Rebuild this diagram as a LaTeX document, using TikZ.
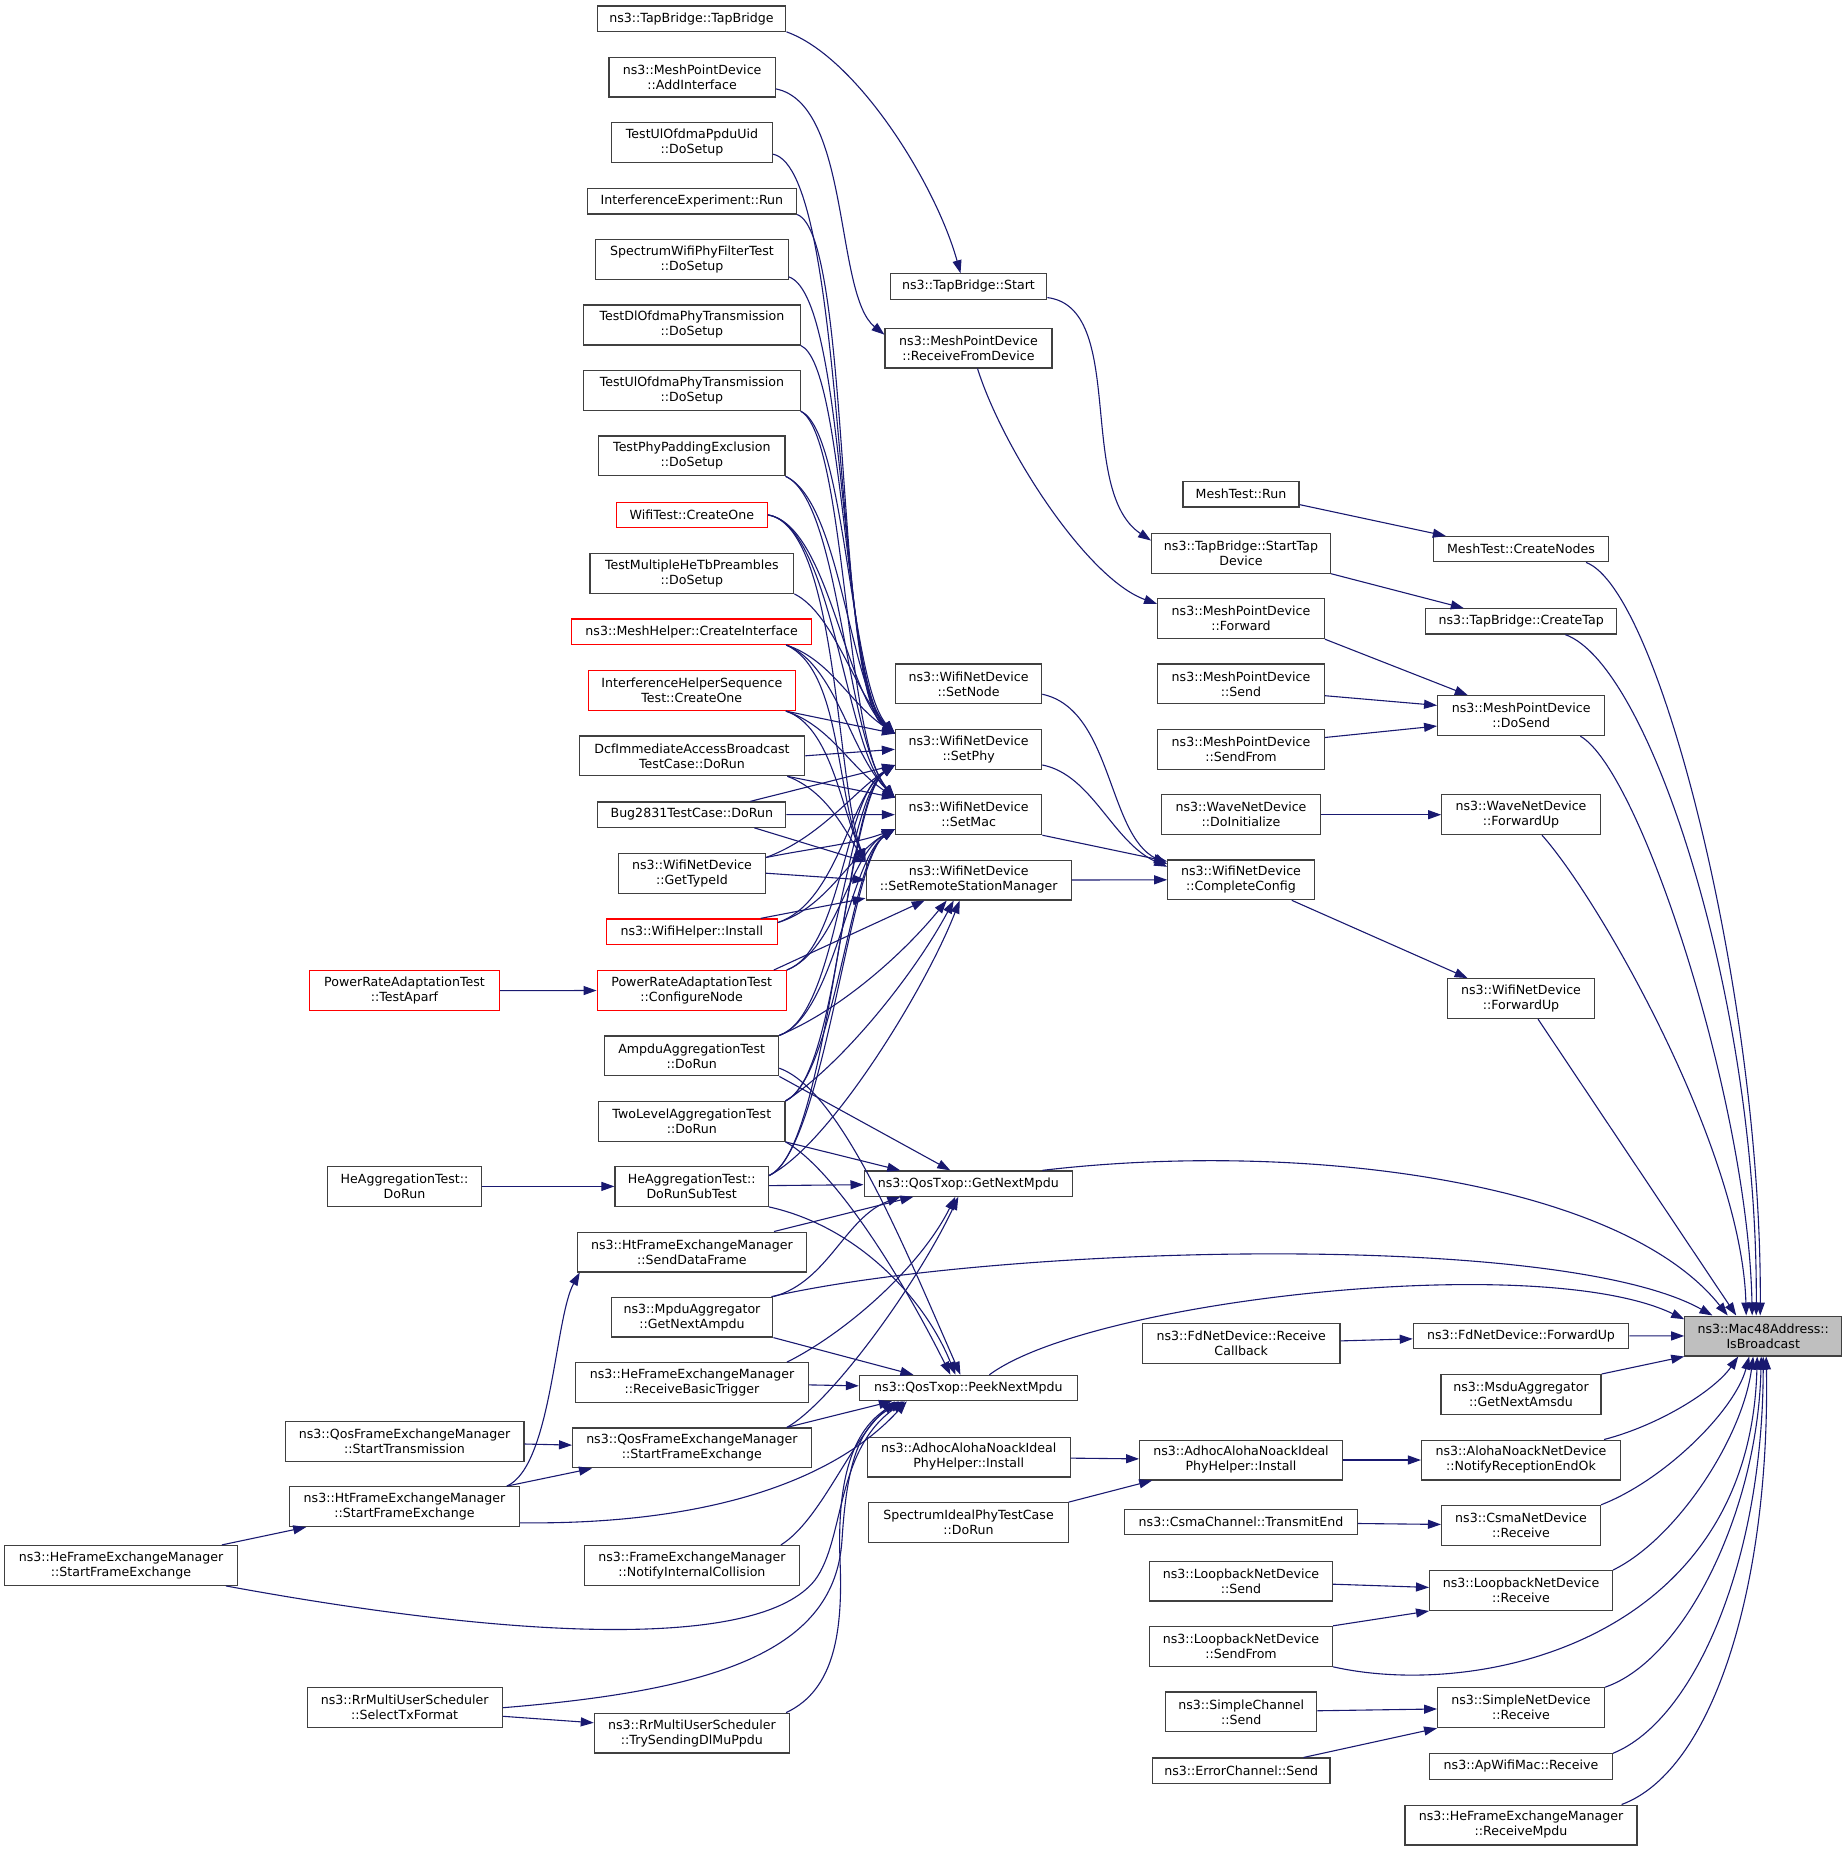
\documentclass[tikz,border=0pt]{standalone}
\usepackage{fontspec}
\setmainfont{DejaVu Sans}
\usetikzlibrary{arrows.meta}
\definecolor{edgeblue}{HTML}{191970}
\definecolor{boxgray}{HTML}{404040}
\definecolor{rootgray}{HTML}{BFBFBF}
\tikzset{
	fn/.style={draw=boxgray, line width=1.2pt, fill=white, align=center, inner sep=0pt, minimum height=25.3pt, font=\fontsize{12.6}{15}\selectfont},
	fnn/.style={fn, minimum height=39.8pt},
	trunc/.style={draw=red},
	root/.style={fill=rootgray},
	calledge/.style={draw=edgeblue, line width=1.1pt, -{Triangle[length=13pt,width=9pt]}}
}
\begin{document}
\begin{tikzpicture}[x=1pt, y=-1pt]
	\useasboundingbox (0,0) rectangle (1847,1851);

	% Left columns
	\node [fnn, minimum width=232.5pt] (heSFE) at (121,1565.4) {ns3::HeFrameExchangeManager\\::StartFrameExchange};
	\node [fnn, trunc, minimum width=189.8pt] (aparf) at (404.5,990.6) {PowerRateAdaptationTest\\::TestAparf};
	\node [fnn, minimum width=153.4pt] (heRun) at (404.5,1186.4) {HeAggregationTest::\\DoRun};
	\node [fnn, minimum width=238.8pt] (qosST) at (404.5,1441.2) {ns3::QosFrameExchangeManager\\::StartTransmission};
	\node [fnn, minimum width=229.4pt] (htSFE) at (404.5,1506.6) {ns3::HtFrameExchangeManager\\::StartFrameExchange};
	\node [fnn, minimum width=195pt] (selTx) at (404.7,1707.7) {ns3::RrMultiUserScheduler\\::SelectTxFormat};

	% Middle column of callers
	\node [fn, minimum width=188.7pt] (tbCtor) at (691.5,18.6) {ns3::TapBridge::TapBridge};
	\node [fnn, minimum width=166.2pt] (addIf) at (692.1,77.1) {ns3::MeshPointDevice\\::AddInterface};
	\node [fnn, minimum width=160.7pt] (ppduUid) at (692,142.8) {TestUlOfdmaPpduUid\\::DoSetup};
	\node [fn, minimum width=209.3pt] (interfRun) at (691.9,201.3) {InterferenceExperiment::Run};
	\node [fnn, minimum width=192.3pt] (specFilter) at (692,259.8) {SpectrumWifiPhyFilterTest\\::DoSetup};
	\node [fnn, minimum width=216.5pt] (dlOfdma) at (691.9,325) {TestDlOfdmaPhyTransmission\\::DoSetup};
	\node [fnn, minimum width=216.5pt] (ulOfdma) at (691.9,390.7) {TestUlOfdmaPhyTransmission\\::DoSetup};
	\node [fnn, minimum width=186.3pt] (padding) at (691.9,455.9) {TestPhyPaddingExclusion\\::DoSetup};
	\node [fn, trunc, minimum width=150.9pt] (wifiTest) at (691.9,514.9) {WifiTest::CreateOne};
	\node [fnn, minimum width=203.7pt] (heTb) at (691.9,573.4) {TestMultipleHeTbPreambles\\::DoSetup};
	\node [fn, trunc, minimum width=239.7pt] (meshHelper) at (691.7,631.7) {ns3::MeshHelper::CreateInterface};
	\node [fnn, trunc, minimum width=206.9pt] (ihSeq) at (691.8,690.6) {InterferenceHelperSequence\\Test::CreateOne};
	\node [fnn, minimum width=225.5pt] (dcf) at (692,755.8) {DcfImmediateAccessBroadcast\\TestCase::DoRun};
	\node [fn, minimum width=187.9pt] (bug2831) at (691.8,814.6) {Bug2831TestCase::DoRun};
	\node [fnn, minimum width=146.7pt] (typeId) at (692,873.2) {ns3::WifiNetDevice\\::GetTypeId};
	\node [fn, trunc, minimum width=170.4pt] (wifiHelper) at (691.9,931.6) {ns3::WifiHelper::Install};
	\node [fnn, trunc, minimum width=189.1pt] (confNode) at (691.7,990.5) {PowerRateAdaptationTest\\::ConfigureNode};
	\node [fnn, minimum width=174pt] (ampdu) at (691.7,1055.9) {AmpduAggregationTest\\::DoRun};
	\node [fnn, minimum width=186.3pt] (twoLevel) at (691.8,1121.4) {TwoLevelAggregationTest\\::DoRun};
	\node [fnn, minimum width=153.4pt] (heSub) at (691.7,1186.4) {HeAggregationTest::\\DoRunSubTest};
	\node [fnn, minimum width=229.1pt] (sendData) at (691.9,1252) {ns3::HtFrameExchangeManager\\::SendDataFrame};
	\node [fnn, minimum width=161.7pt] (getAmpdu) at (692,1317.1) {ns3::MpduAggregator\\::GetNextAmpdu};
	\node [fnn, minimum width=232.7pt] (rcvTrig) at (692,1382.6) {ns3::HeFrameExchangeManager\\::ReceiveBasicTrigger};
	\node [fnn, minimum width=238.6pt] (qosSFE) at (691.9,1447.9) {ns3::QosFrameExchangeManager\\::StartFrameExchange};
	\node [fnn, minimum width=214.9pt] (notifyColl) at (691.9,1565.4) {ns3::FrameExchangeManager\\::NotifyInternalCollision};
	\node [fnn, minimum width=195.1pt] (trySend) at (691.9,1733.1) {ns3::RrMultiUserScheduler\\::TrySendingDlMuPpdu};

	% WifiNetDevice setters and Txop
	\node [fn, minimum width=156.6pt] (tbStart) at (968.5,286.5) {ns3::TapBridge::Start};
	\node [fnn, minimum width=166.9pt] (rcvFromDev) at (968.5,348) {ns3::MeshPointDevice\\::ReceiveFromDevice};
	\node [fnn, minimum width=146.3pt] (setNode) at (968.6,683.9) {ns3::WifiNetDevice\\::SetNode};
	\node [fnn, minimum width=146.3pt] (setPhy) at (968.6,749.3) {ns3::WifiNetDevice\\::SetPhy};
	\node [fnn, minimum width=146.3pt] (setMac) at (968.6,814.7) {ns3::WifiNetDevice\\::SetMac};
	\node [fnn, minimum width=205.2pt] (setRsm) at (968.7,880) {ns3::WifiNetDevice\\::SetRemoteStationManager};
	\node [fn, minimum width=208.4pt] (getNext) at (968.3,1183.6) {ns3::QosTxop::GetNextMpdu};
	\node [fn, minimum width=217.9pt] (peekNext) at (968.4,1388) {ns3::QosTxop::PeekNextMpdu};
	\node [fnn, minimum width=202.8pt] (adhocA) at (968.7,1457) {ns3::AdhocAlohaNoackIdeal\\PhyHelper::Install};
	\node [fnn, minimum width=199.3pt] (specIdeal) at (968.5,1522.6) {SpectrumIdealPhyTestCase\\::DoRun};

	% Net devices and channels
	\node [fn, minimum width=116pt] (meshRun) at (1241,494.3) {MeshTest::Run};
	\node [fnn, minimum width=178.8pt] (startTap) at (1241,553.2) {ns3::TapBridge::StartTap\\Device};
	\node [fnn, minimum width=166.7pt] (forward) at (1241,618.7) {ns3::MeshPointDevice\\::Forward};
	\node [fnn, minimum width=167pt] (mpSend) at (1241,683.9) {ns3::MeshPointDevice\\::Send};
	\node [fnn, minimum width=167pt] (mpSendFrom) at (1241,749.3) {ns3::MeshPointDevice\\::SendFrom};
	\node [fnn, minimum width=159pt] (waveInit) at (1241,814.7) {ns3::WaveNetDevice\\::DoInitialize};
	\node [fnn, minimum width=146.5pt] (complete) at (1241,879.8) {ns3::WifiNetDevice\\::CompleteConfig};
	\node [fnn, minimum width=197.4pt] (fdRcvCb) at (1241.2,1343.7) {ns3::FdNetDevice::Receive\\Callback};
	\node [fnn, minimum width=202.7pt] (adhocB) at (1241,1460) {ns3::AdhocAlohaNoackIdeal\\PhyHelper::Install};
	\node [fn, minimum width=232.5pt] (csmaCh) at (1241,1522.2) {ns3::CsmaChannel::TransmitEnd};
	\node [fnn, minimum width=182.9pt] (lbSend) at (1241,1581.1) {ns3::LoopbackNetDevice\\::Send};
	\node [fnn, minimum width=182.9pt] (lbSendFrom) at (1241,1646.3) {ns3::LoopbackNetDevice\\::SendFrom};
	\node [fnn, minimum width=151pt] (simpleCh) at (1241.3,1711.9) {ns3::SimpleChannel\\::Send};
	\node [fn, minimum width=177.6pt] (errorCh) at (1241.2,1770.7) {ns3::ErrorChannel::Send};

	% Direct callers of IsBroadcast
	\node [fn, minimum width=175pt] (createNodes) at (1521,549.2) {MeshTest::CreateNodes};
	\node [fn, minimum width=191.1pt] (createTap) at (1521.2,621.4) {ns3::TapBridge::CreateTap};
	\node [fnn, minimum width=167.1pt] (doSend) at (1521.2,715.7) {ns3::MeshPointDevice\\::DoSend};
	\node [fnn, minimum width=158.5pt] (waveFwd) at (1521,814.7) {ns3::WaveNetDevice\\::ForwardUp};
	\node [fnn, minimum width=146.9pt] (wifiFwd) at (1521,998.6) {ns3::WifiNetDevice\\::ForwardUp};
	\node [fn, minimum width=215.4pt] (fdFwd) at (1521,1335.8) {ns3::FdNetDevice::ForwardUp};
	\node [fnn, minimum width=160pt] (msdu) at (1521,1394.5) {ns3::MsduAggregator\\::GetNextAmsdu};
	\node [fnn, minimum width=198.9pt] (aloha) at (1521,1460) {ns3::AlohaNoackNetDevice\\::NotifyReceptionEndOk};
	\node [fnn, minimum width=158.9pt] (csmaRcv) at (1521,1525.3) {ns3::CsmaNetDevice\\::Receive};
	\node [fnn, minimum width=182.8pt] (lbRcv) at (1521,1590.5) {ns3::LoopbackNetDevice\\::Receive};
	\node [fnn, minimum width=166.7pt] (simpleRcv) at (1521,1707.7) {ns3::SimpleNetDevice\\::Receive};
	\node [fn, minimum width=182.8pt] (apRcv) at (1521,1766.5) {ns3::ApWifiMac::Receive};
	\node [fnn, minimum width=232pt] (rcvMpdu) at (1521,1825) {ns3::HeFrameExchangeManager\\::ReceiveMpdu};

	\node [fnn, root, minimum width=156.8pt] (isb) at (1763.2,1336) {ns3::Mac48Address::\\IsBroadcast};

	% Mesh and tap bridge chain
	\draw[calledge] (tbCtor.south east) .. controls +(70,25) and +(-25,-90) .. ([xshift=-8pt]tbStart.north);
	\draw[calledge] (addIf.352) .. controls +(75,15) and +(-50,-40) .. (rcvFromDev.171);
	\draw[calledge] (tbStart.352) .. controls +(80,10) and +(-75,-50) .. (startTap.172);
	\draw[calledge] ([xshift=9pt]rcvFromDev.south) .. controls +(25,80) and +(-70,-25) .. (forward.170);
	\draw[calledge] (meshRun.350) -- (createNodes.170);
	\draw[calledge] (startTap.south east) -- (createTap.167);
	\draw[calledge] (forward.south east) -- (doSend.159);
	\draw[calledge] (mpSend.352) -- (doSend.173);
	\draw[calledge] (mpSendFrom.8) -- (doSend.187);
	\draw[calledge] (waveInit) -- (waveFwd);
	\draw[calledge] (complete.338) -- (wifiFwd.159);

	% Setters into CompleteConfig
	\draw[calledge] (setNode.352) .. controls +(70,15) and +(-60,-30) .. (complete.168);
	\draw[calledge] (setPhy.348) .. controls +(50,10) and +(-55,-25) .. (complete.170);
	\draw[calledge] (setMac.south east) -- (complete.166);
	\draw[calledge] (setRsm.east) -- (complete.west);

	% Test cases and helpers into the setters
	\draw[calledge] (ppduUid.352) .. controls +(75,15) and +(-60,-40) .. (setPhy.168);
	\draw[calledge] (interfRun.south east) .. controls +(55,20) and +(-60,-40) .. (setPhy.168);
	\draw[calledge] (specFilter.350) .. controls +(60,20) and +(-55,-45) .. (setPhy.168);
	\draw[calledge] (dlOfdma.south east) .. controls +(45,20) and +(-50,-45) .. (setPhy.168);
	\draw[calledge] (ulOfdma.south east) .. controls +(45,20) and +(-45,-50) .. (setPhy.168);
	\draw[calledge] (ulOfdma.south east) .. controls +(45,25) and +(-50,-55) .. (setMac.167);
	\draw[calledge] (padding.south east) .. controls +(55,25) and +(-45,-45) .. (setPhy.168);
	\draw[calledge] (padding.south east) .. controls +(55,25) and +(-50,-60) .. (setMac.167);
	\draw[calledge] (wifiTest.east) .. controls +(60,10) and +(-50,-40) .. (setPhy.168);
	\draw[calledge] (wifiTest.east) .. controls +(65,10) and +(-50,-50) .. (setMac.167);
	\draw[calledge] (wifiTest.east) .. controls +(70,12) and +(-30,-80) .. (setRsm.170);
	\draw[calledge] (heTb.south east) .. controls +(40,20) and +(-40,-40) .. (setPhy.168);
	\draw[calledge] ([xshift=-26pt]meshHelper.south east) .. controls +(45,15) and +(-45,-30) .. (setPhy.168);
	\draw[calledge] ([xshift=-26pt]meshHelper.south east) .. controls +(50,20) and +(-45,-45) .. (setMac.167);
	\draw[calledge] ([xshift=-26pt]meshHelper.south east) .. controls +(55,25) and +(-30,-70) .. (setRsm.170);
	\draw[calledge] ([xshift=-10pt]ihSeq.south east) -- (setPhy.168);
	\draw[calledge] ([xshift=-10pt]ihSeq.south east) .. controls +(45,15) and +(-45,-30) .. (setMac.167);
	\draw[calledge] ([xshift=-10pt]ihSeq.south east) .. controls +(45,15) and +(-25,-55) .. (setRsm.170);
	\draw[calledge] (dcf.east) -- (setPhy.west);
	\draw[calledge] ([xshift=-18pt]dcf.south east) -- (setMac.167);
	\draw[calledge] ([xshift=-18pt]dcf.south east) .. controls +(40,15) and +(-20,-30) .. (setRsm.170);
	\draw[calledge] ([xshift=-36pt]bug2831.north east) -- (setPhy.192);
	\draw[calledge] (bug2831) -- (setMac);
	\draw[calledge] ([xshift=-32pt]bug2831.south east) -- (setRsm.170);
	\draw[calledge] (typeId.12) .. controls +(55,-20) and +(-40,25) .. (setPhy.192);
	\draw[calledge] (typeId.12) .. controls +(50,-10) and +(-40,15) .. (setMac.191);
	\draw[calledge] (typeId.east) -- (setRsm.west);
	\draw[calledge] ([xshift=-17pt]wifiHelper.north east) -- (setRsm.190);
	\draw[calledge] (wifiHelper.6) .. controls +(50,-15) and +(-45,25) .. (setMac.191);
	\draw[calledge] (wifiHelper.6) .. controls +(60,-20) and +(-45,30) .. (setPhy.192);
	\draw[calledge] (confNode.north east) .. controls +(55,-20) and +(-50,30) .. (setPhy.192);
	\draw[calledge] (confNode.north east) .. controls +(50,-20) and +(-45,25) .. (setMac.191);
	\draw[calledge] ([xshift=-13pt]confNode.north east) -- ([xshift=-44pt]setRsm.south);
	\draw[calledge] (ampdu.north east) .. controls +(60,-20) and +(-50,35) .. (setPhy.192);
	\draw[calledge] (ampdu.north east) .. controls +(55,-20) and +(-45,30) .. (setMac.191);
	\draw[calledge] (ampdu.north east) .. controls +(60,-25) and +(-45,55) .. ([xshift=-22pt]setRsm.south);
	\draw[calledge] (twoLevel.north east) .. controls +(55,-25) and +(-50,35) .. (setPhy.192);
	\draw[calledge] (twoLevel.north east) .. controls +(50,-25) and +(-45,30) .. (setMac.191);
	\draw[calledge] (twoLevel.north east) .. controls +(55,-35) and +(-40,75) .. ([xshift=-15pt]setRsm.south);
	\draw[calledge] (heSub.8) .. controls +(60,-25) and +(-50,35) .. (setPhy.192);
	\draw[calledge] (heSub.8) .. controls +(55,-25) and +(-45,30) .. (setMac.191);
	\draw[calledge] (heSub.8) .. controls +(60,-30) and +(-35,90) .. ([xshift=-9pt]setRsm.south);

	% Frame exchange and aggregation
	\draw[calledge] (aparf) -- (confNode);
	\draw[calledge] (heRun) -- (heSub);
	\draw[calledge] (qosST) -- (qosSFE);
	\draw[calledge] ([xshift=-13pt]htSFE.north east) -- ([xshift=20pt]qosSFE.south west);
	\draw[calledge] ([xshift=-13pt]htSFE.north east) .. controls +(45,-20) and +(-25,45) .. ([xshift=3pt]sendData.south west);
	\draw[calledge] ([xshift=-16pt]heSFE.north east) -- ([xshift=17pt]htSFE.south west);
	\draw[calledge] (selTx.355) -- (trySend.174);
	\draw[calledge] (heSub) -- (getNext);
	\draw[calledge] (heSub.south east) .. controls +(90,20) and +(-30,-75) .. ([xshift=-13pt]peekNext.north);
	\draw[calledge] (twoLevel.south east) -- ([xshift=-68pt]getNext.north);
	\draw[calledge] (twoLevel.south east) .. controls +(45,25) and +(-55,-110) .. ([xshift=-18pt]peekNext.north);
	\draw[calledge] (ampdu.south east) -- ([xshift=-18pt]getNext.north);
	\draw[calledge] (ampdu.352) .. controls +(62,22) and +(-55,-125) .. ([xshift=-8pt]peekNext.north);
	\draw[calledge] ([xshift=-33pt]sendData.north east) -- ([xshift=-55pt]getNext.south);
	\draw[calledge] (getAmpdu.north east) .. controls +(55,-15) and +(-55,20) .. ([xshift=-68pt]getNext.south);
	\draw[calledge] (getAmpdu.south east) -- ([xshift=-55pt]peekNext.north);
	\draw[calledge] (rcvTrig) -- (peekNext);
	\draw[calledge] ([xshift=-22pt]rcvTrig.north east) .. controls +(60,-30) and +(-35,70) .. ([xshift=-13pt]getNext.south);
	\draw[calledge] ([xshift=-25pt]qosSFE.north east) .. controls +(45,-25) and +(-40,85) .. ([xshift=-10pt]getNext.south);
	\draw[calledge] ([xshift=-25pt]qosSFE.north east) -- ([xshift=33pt]peekNext.south west);
	\draw[calledge] ([xshift=-19pt]notifyColl.north east) .. controls +(40,-25) and +(-45,40) .. ([xshift=36pt]peekNext.south west);
	\draw[calledge] ([xshift=-4pt]trySend.north east) .. controls (835,1690) and (843,1630) .. (840,1560) .. controls (837,1480) and (852,1430) .. ([xshift=40pt]peekNext.south west);
	\draw[calledge] (selTx.east) .. controls (720,1690) and (835,1650) .. (842,1540) .. controls (847,1460) and (860,1425) .. ([xshift=44pt]peekNext.south west);
	\draw[calledge] (htSFE.352) .. controls (710,1525) and (835,1480) .. ([xshift=48pt]peekNext.south west);
	\draw[calledge] ([xshift=-12pt]heSFE.south east) .. controls (520,1640) and (760,1650) .. (815,1580) .. controls (845,1540) and (835,1450) .. ([xshift=46pt]peekNext.south west);

	% Phy helpers and channels
	\draw[calledge] (adhocA) -- (adhocB);
	\draw[calledge] (specIdeal.north east) -- (adhocB.193);
	\draw[calledge] (adhocB) -- (aloha);
	\draw[calledge] (fdRcvCb) -- (fdFwd);
	\draw[calledge] (csmaCh) -- (csmaRcv);
	\draw[calledge] (lbSend) -- (lbRcv);
	\draw[calledge] (lbSendFrom.north east) -- (lbRcv.south west);
	\draw[calledge] (simpleCh) -- (simpleRcv);
	\draw[calledge] (errorCh.12) -- (simpleRcv.south west);

	% Everything that reaches IsBroadcast
	\draw[calledge] ([xshift=-23pt]createNodes.south east) .. controls (1660,590) and (1762,1000) .. ([xshift=-3pt]isb.north);
	\draw[calledge] ([xshift=-52pt]createTap.south east) .. controls (1650,665) and (1758,1000) .. ([xshift=-7pt]isb.north);
	\draw[calledge] ([xshift=-25pt]doSend.south east) .. controls (1640,770) and (1748,1100) .. ([xshift=-11pt]isb.north);
	\draw[calledge] ([xshift=21pt]waveFwd.south) .. controls (1600,900) and (1742,1150) .. ([xshift=-17pt]isb.north);
	\draw[calledge] ([xshift=17pt]wifiFwd.south) -- ([xshift=-27pt]isb.north);
	\draw[calledge] ([xshift=74pt]getNext.north) .. controls (1300,1140) and (1620,1180) .. (isb.150);
	\draw[calledge] ([xshift=-2pt]getAmpdu.north east) .. controls (1000,1245) and (1560,1230) .. (isb.158);
	\draw[calledge] ([xshift=21pt]peekNext.north) .. controls (1090,1300) and (1540,1250) .. (isb.168);
	\draw[calledge] (fdFwd) -- (isb);
	\draw[calledge] (msdu.north east) -- (isb.south west);
	\draw[calledge] ([xshift=-17pt]aloha.north east) .. controls (1660,1425) and (1715,1390) .. ([xshift=-25pt]isb.south);
	\draw[calledge] (csmaRcv.north east) .. controls (1665,1480) and (1735,1410) .. ([xshift=-14pt]isb.south);
	\draw[calledge] (lbRcv.north east) .. controls (1675,1540) and (1742,1440) .. ([xshift=-10pt]isb.south);
	\draw[calledge] (lbSendFrom.south east) .. controls (1480,1700) and (1750,1640) .. ([xshift=-6pt]isb.south);
	\draw[calledge] (simpleRcv.north east) .. controls (1685,1660) and (1758,1510) .. ([xshift=-2pt]isb.south);
	\draw[calledge] (apRcv.north east) .. controls (1695,1720) and (1763,1560) .. (isb.south);
	\draw[calledge] ([xshift=-16pt]rcvMpdu.north east) .. controls (1715,1770) and (1770,1580) .. ([xshift=3pt]isb.south);
\end{tikzpicture}
\end{document}
